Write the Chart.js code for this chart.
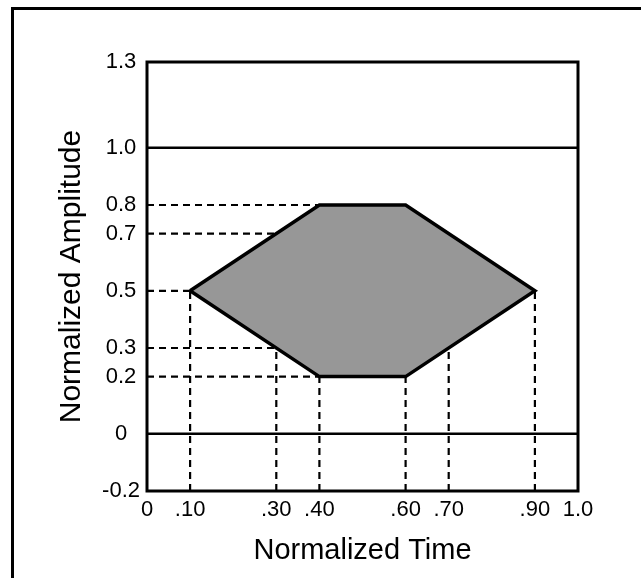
<!DOCTYPE html>
<html>
<head>
<meta charset="utf-8">
<script src="https://cdn.jsdelivr.net/npm/chart.js@4/dist/chart.umd.min.js"></script>
<style>
  html, body { margin: 0; padding: 0; background: #fff; overflow: hidden; }
  #wrap { position: relative; width: 641px; height: 578px; }
  #border { position: absolute; left: 11px; top: 7px; width: 700px; height: 700px; border: 3px solid #000; }
  canvas { position: absolute; left: 0; top: 0; }
</style>
</head>
<body>
<div id="wrap">
  <div id="border"></div>
  <canvas id="envelope" width="641" height="578"></canvas>
</div>
<script>
// axis ticks
var xTicks = [0, 0.1, 0.3, 0.4, 0.6, 0.7, 0.9, 1.0];
var xTickLabels = ['0', '.10', '.30', '.40', '.60', '.70', '.90', '1.0'];
var yTicks = [-0.2, 0, 0.2, 0.3, 0.5, 0.7, 0.8, 1.0, 1.3];
var yTickLabels = ['-0.2', '0', '0.2', '0.3', '0.5', '0.7', '0.8', '1.0', '1.3'];

// envelope outline (closed)
var envTime = [0.1, 0.4, 0.6, 0.9, 0.6, 0.4, 0.1];
var envAmp = [0.5, 0.8, 0.8, 0.5, 0.2, 0.2, 0.5];

// solid reference levels
var refLevels = [0, 1.0];

// dashed guides: amplitude level -> where it meets the envelope
var guideAmp = [0.8, 0.7, 0.5, 0.3, 0.2];
var guideAmpEnd = [0.4, 0.3, 0.1, 0.3, 0.4];

// dashed guides: time -> where it meets the envelope
var guideTime = [0.1, 0.3, 0.4, 0.6, 0.7, 0.9];
var guideTimeEnd = [0.5, 0.3, 0.2, 0.2, 0.3, 0.5];

var xMin = xTicks[0], xMax = xTicks[xTicks.length - 1];
var yMin = yTicks[0], yMax = yTicks[yTicks.length - 1];
var dash = [7, 5];

var datasets = [];

// the shaded envelope
datasets.push({
  data: envTime.map(function (t, i) { return { x: t, y: envAmp[i] }; }),
  borderColor: '#000',
  borderWidth: 3.5,
  borderJoinStyle: 'miter',
  backgroundColor: '#979797',
  fill: 'shape'
});

refLevels.forEach(function (v) {
  datasets.push({
    data: [{ x: xMin, y: v }, { x: xMax, y: v }],
    borderColor: '#000',
    borderWidth: 2.5
  });
});

guideAmp.forEach(function (a, i) {
  datasets.push({
    data: [{ x: xMin, y: a }, { x: guideAmpEnd[i], y: a }],
    borderColor: '#000',
    borderWidth: 2.2,
    borderDash: dash
  });
});

guideTime.forEach(function (t, i) {
  datasets.push({
    data: [{ x: t, y: yMin }, { x: t, y: guideTimeEnd[i] }],
    borderColor: '#000',
    borderWidth: 2.2,
    borderDash: dash
  });
});

// box round the plot area
var frame = {
  id: 'frame',
  afterDatasetsDraw: function (chart) {
    var a = chart.chartArea, ctx = chart.ctx;
    ctx.save();
    ctx.strokeStyle = '#000';
    ctx.lineWidth = 3;
    ctx.strokeRect(a.left, a.top, a.right - a.left, a.bottom - a.top);
    ctx.restore();
  }
};

var font = "'Liberation Sans', Arial, Helvetica, sans-serif";
Chart.defaults.font.family = font;
Chart.defaults.color = '#000';

var chart = new Chart(document.getElementById('envelope'), {
  type: 'scatter',
  data: { datasets: datasets },
  plugins: [frame],
  options: {
    responsive: false,
    animation: false,
    devicePixelRatio: 1,
    clip: false,
    datasets: {
      scatter: { showLine: true, pointRadius: 0, pointHoverRadius: 0, fill: false }
    },
    layout: { padding: { top: 62, right: 63, left: 0, bottom: 0 } },
    plugins: { legend: { display: false }, tooltip: { enabled: false } },
    scales: {
      x: {
        type: 'linear',
        min: xMin,
        max: xMax,
        grid: { display: false, drawTicks: false },
        border: { display: false },
        afterBuildTicks: function (scale) {
          scale.ticks = xTicks.map(function (v) { return { value: v }; });
        },
        afterFit: function (scale) { scale.height = 87; },
        ticks: {
          autoSkip: false,
          maxRotation: 0,
          padding: 6,
          font: { size: 22 },
          callback: function (v) { return xTickLabels[xTicks.indexOf(v)]; }
        },
        title: {
          display: true,
          text: 'Normalized Time',
          font: { size: 29 },
          padding: { top: 0, bottom: 10 }
        }
      },
      y: {
        type: 'linear',
        min: yMin,
        max: yMax,
        grid: { display: false, drawTicks: false },
        border: { display: false },
        afterBuildTicks: function (scale) {
          scale.ticks = yTicks.map(function (v) { return { value: v }; });
        },
        afterFit: function (scale) { scale.width = 147; },
        ticks: {
          autoSkip: false,
          padding: 7,
          crossAlign: 'center',
          font: { size: 22 },
          callback: function (v) { return yTickLabels[yTicks.indexOf(v)]; }
        },
        title: {
          display: true,
          text: 'Normalized Amplitude',
          font: { size: 30 },
          padding: { top: 54, bottom: 0 }
        }
      }
    }
  }
});
</script>
</body>
</html>
